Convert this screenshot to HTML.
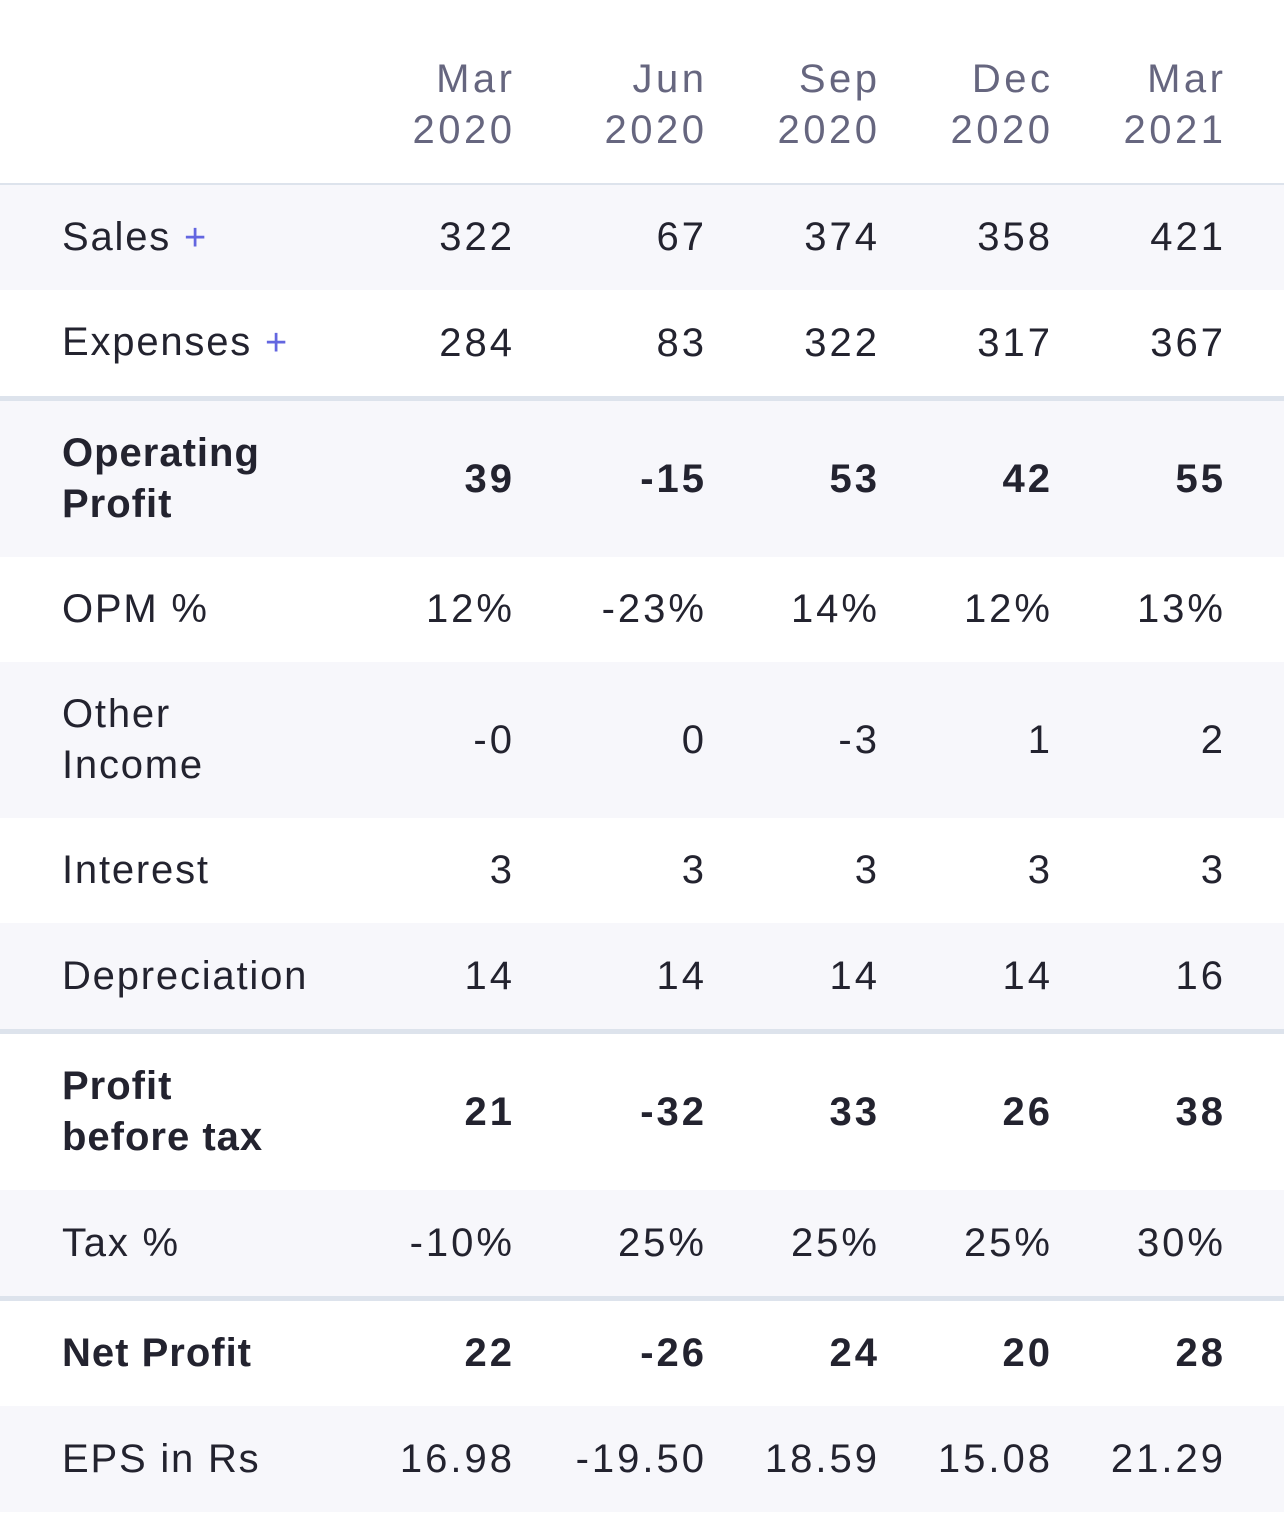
<!DOCTYPE html>
<html><head><meta charset="utf-8"><style>
body{margin:0;width:1284px;height:1520px;background:#fff;font-family:"Liberation Sans",sans-serif;position:relative;overflow:hidden}
.row{position:absolute;left:0;width:1284px;display:flex;align-items:center}
.row.s{background:#f7f7fb}
.lab{position:absolute;left:62px;font-size:40px;letter-spacing:1.8px;color:#23232f;line-height:51px}
.c{position:absolute;font-size:40px;letter-spacing:3px;color:#23232f;text-align:right;width:183px;line-height:51px}
.b .lab{font-weight:bold;letter-spacing:1px}
.b .c{font-weight:bold;letter-spacing:3px}
.hd{color:#66667f;letter-spacing:3.5px;width:183.5px}
.plus{color:#6366e0;font-size:38px}
.line{position:absolute;left:0;width:1284px;background:#dde3ec}
</style></head><body>
<div class="row" style="top:40px;height:130px" id="hdr"></div>
<div class="line" style="top:183px;height:3px"></div>
<div class="line" style="top:396px;height:5px"></div>
<div class="line" style="top:1029px;height:5px"></div>
<div class="line" style="top:1296px;height:5px"></div>
<div id="tbl"></div>
<script>
const periods=["Mar 2020","Jun 2020","Sep 2020","Dec 2020","Mar 2021"];
const rowLabels=["Sales","Expenses","Operating Profit","OPM %","Other Income","Interest","Depreciation","Profit before tax","Tax %","Net Profit","EPS in Rs"];
const sales=["322","67","374","358","421"];
const expenses=["284","83","322","317","367"];
const opProfit=["39","-15","53","42","55"];
const opm=["12%","-23%","14%","12%","13%"];
const otherIncome=["-0","0","-3","1","2"];
const interest=["3","3","3","3","3"];
const depreciation=["14","14","14","14","16"];
const pbt=["21","-32","33","26","38"];
const taxPct=["-10%","25%","25%","25%","30%"];
const netProfit=["22","-26","24","20","28"];
const eps=["16.98","-19.50","18.59","15.08","21.29"];
const values=[sales,expenses,opProfit,opm,otherIncome,interest,depreciation,pbt,taxPct,netProfit,eps];
const colRight=[512,704,877,1050,1223];
const rowsGeom=[[185,105,1,0,1],[290,106,0,0,1],[401,156,1,1,0],[557,105,0,0,0],[662,156,1,0,0],[818,105,0,0,0],[923,106,1,0,0],[1034,156,0,1,0],[1190,106,1,0,0],[1301,105,0,1,0],[1406,106,1,0,0]];
const hdr=document.getElementById('hdr');
periods.forEach((p,i)=>{
  const d=document.createElement('div');
  
  
  d.className='c hd';
  d.style.left=(colRight[i]-180)+'px';
  d.innerHTML=p.replace(' ','<br>');
  hdr.appendChild(d);
});
const tbl=document.getElementById('tbl');
rowLabels.forEach((l,r)=>{
  const g=rowsGeom[r];
  const row=document.createElement('div');
  
  
  row.className='row'+(g[2]?' s':'')+(g[3]?' b':'');
  row.style.top=g[0]+'px';row.style.height=g[1]+'px';
  const lab=document.createElement('div');
  
  
  lab.className='lab';
  let txt=l;
  if(l==="Operating Profit")txt="Operating<br>Profit";
  if(l==="Other Income")txt="Other<br>Income";
  if(l==="Profit before tax")txt="Profit<br>before tax";
  lab.innerHTML=txt+(g[4]?' <span class="plus">+</span>':'');
  row.appendChild(lab);
  values[r].forEach((v,i)=>{
    const c=document.createElement('div');
    
    
    c.className='c';
    c.style.left=(colRight[i]-180)+'px';
    c.textContent=v;
    row.appendChild(c);
  });
  tbl.appendChild(row);
});
</script>
</body></html>
